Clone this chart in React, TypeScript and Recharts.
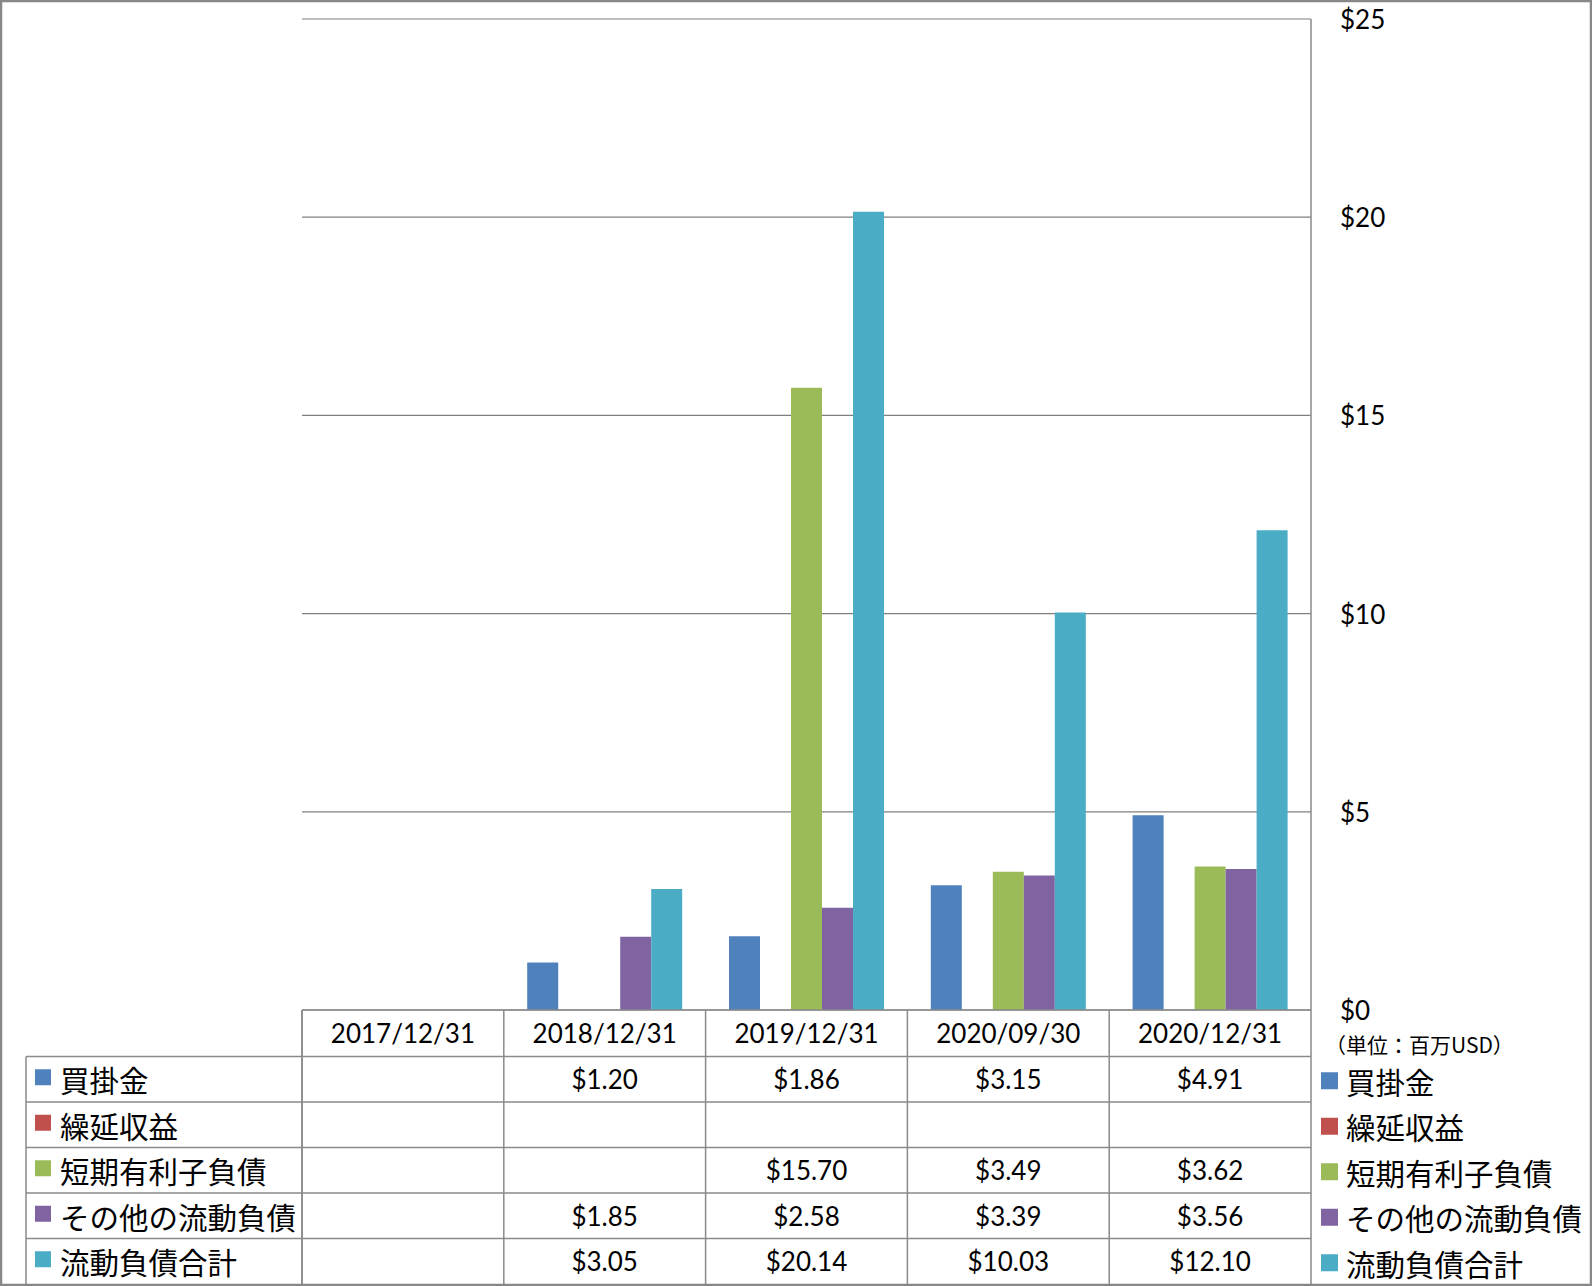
import React from "react";
import { BarChart, Bar, XAxis, YAxis, CartesianGrid } from "recharts";

const categories = ["2017/12/31", "2018/12/31", "2019/12/31", "2020/09/30", "2020/12/31"];
const accountsPayable = [null, 1.2, 1.86, 3.15, 4.91];
const deferredRevenue = [null, null, null, null, null];
const shortTermDebt = [null, null, 15.7, 3.49, 3.62];
const otherCurrent = [null, 1.85, 2.58, 3.39, 3.56];
const totalCurrent = [null, 3.05, 20.14, 10.03, 12.1];
const yTicks = [0, 5, 10, 15, 20, 25];
const unitLabel = "（単位：百万USD）";

const series = [
  { key: "ap", name: "買掛金", color: "#4F81BD", values: accountsPayable },
  { key: "dr", name: "繰延収益", color: "#C0504D", values: deferredRevenue },
  { key: "std", name: "短期有利子負債", color: "#9BBB59", values: shortTermDebt },
  { key: "ocl", name: "その他の流動負債", color: "#8064A2", values: otherCurrent },
  { key: "tcl", name: "流動負債合計", color: "#4BACC6", values: totalCurrent },
];

const chartData = categories.map((c, i) => {
  const row: Record<string, any> = { date: c };
  series.forEach((s) => (row[s.key] = s.values[i]));
  return row;
});

// layout
const W = 1592;
const H = 1286;
const PLOT_LEFT = 302;
const PLOT_RIGHT = 1311;
const PLOT_TOP = 19;
const PLOT_BOTTOM = 1010;
const HEADER_BOTTOM = 1056.5;
const ROW_H = 45.5;
const TABLE_BOTTOM = HEADER_BOTTOM + ROW_H * series.length;
const LEGEND_LEFT = 26;
const LINE = "#8a8a8a";
const NUM_FONT = "Lato, 'Liberation Sans', sans-serif";
const JP_FONT = "'Noto Sans CJK JP', 'Noto Sans', sans-serif";

const fmt = (v: number) => `$${v.toFixed(2)}`;

const TableColumn = (props: any) => {
  const { x, payload, index } = props;
  const i = payload?.index ?? index;
  const band = (PLOT_RIGHT - PLOT_LEFT) / categories.length;
  return (
    <g>
      <line x1={x - band / 2} x2={x - band / 2} y1={PLOT_BOTTOM} y2={TABLE_BOTTOM} stroke={LINE} strokeWidth={1.5} />
      {i === categories.length - 1 && (
        <line x1={x + band / 2} x2={x + band / 2} y1={PLOT_BOTTOM} y2={TABLE_BOTTOM} stroke={LINE} strokeWidth={1.5} />
      )}
      <text
        x={x}
        y={(PLOT_BOTTOM + HEADER_BOTTOM) / 2}
        textAnchor="middle"
        dominantBaseline="central"
        fontFamily={NUM_FONT}
        fontSize={26}
        fill="#000"
      >
        {payload.value}
      </text>
      {series.map((s, r) => {
        const v = s.values[i];
        if (v == null) return null;
        return (
          <text
            key={s.key}
            x={x}
            y={HEADER_BOTTOM + ROW_H * (r + 0.5)}
            textAnchor="middle"
            dominantBaseline="central"
            fontFamily={NUM_FONT}
            fontSize={26}
            fill="#000"
          >
            {fmt(v)}
          </text>
        );
      })}
    </g>
  );
};

const YTick = (props: any) => {
  const { x, y, payload } = props;
  return (
    <text x={x} y={y} textAnchor="start" dominantBaseline="central" fontFamily={NUM_FONT} fontSize={26} fill="#000">
      {`$${payload.value}`}
    </text>
  );
};

const Overlay = () => (
  <svg width={W} height={H} style={{ position: "absolute", left: 0, top: 0, pointerEvents: "none" }}>
    <rect x={1} y={1} width={W - 2} height={H - 2} fill="none" stroke="#878787" strokeWidth={2.5} />
    {/* table row lines */}
    {series.map((_, r) => (
      <line
        key={r}
        x1={LEGEND_LEFT}
        x2={PLOT_RIGHT}
        y1={HEADER_BOTTOM + ROW_H * r}
        y2={HEADER_BOTTOM + ROW_H * r}
        stroke={LINE}
        strokeWidth={1.5}
      />
    ))}
    <line x1={LEGEND_LEFT} x2={LEGEND_LEFT} y1={HEADER_BOTTOM} y2={TABLE_BOTTOM} stroke={LINE} strokeWidth={1.5} />
    <line x1={PLOT_LEFT} x2={PLOT_LEFT} y1={PLOT_BOTTOM} y2={TABLE_BOTTOM} stroke={LINE} strokeWidth={1.5} />
    {/* left legend column */}
    {series.map((s, r) => {
      const cy = HEADER_BOTTOM + ROW_H * (r + 0.5);
      return (
        <g key={s.key}>
          <rect x={35} y={cy - 10} width={16} height={16} fill={s.color} />
          <text x={60} y={cy} dominantBaseline="central" fontFamily={JP_FONT} fontSize={29.5} fill="#000">
            {s.name}
          </text>
        </g>
      );
    })}
    {/* right legend */}
    <text x={1325} y={1044} dominantBaseline="central" fontFamily={JP_FONT} fontSize={21} fill="#000">
      {unitLabel}
    </text>
    {series.map((s, r) => {
      const cy = HEADER_BOTTOM + ROW_H * (r + 0.5) + 1.5;
      return (
        <g key={s.key}>
          <rect x={1321} y={cy - 8.5} width={17} height={17} fill={s.color} />
          <text x={1346} y={cy} dominantBaseline="central" fontFamily={JP_FONT} fontSize={29.5} fill="#000">
            {s.name}
          </text>
        </g>
      );
    })}
  </svg>
);

export default function App() {
  return (
    <div style={{ position: "absolute", left: 0, top: 0, width: W, height: H, background: "#fff" }}>
      <BarChart
        width={W}
        height={H}
        data={chartData}
        margin={{ top: PLOT_TOP, left: PLOT_LEFT, right: W - PLOT_RIGHT - 80, bottom: 0 }}
        barGap={0}
        barCategoryGap="11.6%"
      >
        <CartesianGrid vertical={false} stroke="#7f7f7f" strokeWidth={1.2} />
        <XAxis
          dataKey="date"
          height={H - PLOT_BOTTOM}
          interval={0}
          tickLine={false}
          axisLine={{ stroke: LINE, strokeWidth: 1.5 }}
          tick={(p: any) => <TableColumn {...p} />}
        />
        <YAxis
          orientation="right"
          width={80}
          domain={[0, 25]}
          ticks={yTicks}
          tickLine={false}
          tickSize={0}
          tickMargin={29}
          axisLine={{ stroke: LINE, strokeWidth: 1.5 }}
          tick={(p: any) => <YTick {...p} />}
        />
        {series.map((s) => (
          <Bar key={s.key} dataKey={s.key} name={s.name} fill={s.color} isAnimationActive={false} />
        ))}
      </BarChart>
      <Overlay />
    </div>
  );
}
